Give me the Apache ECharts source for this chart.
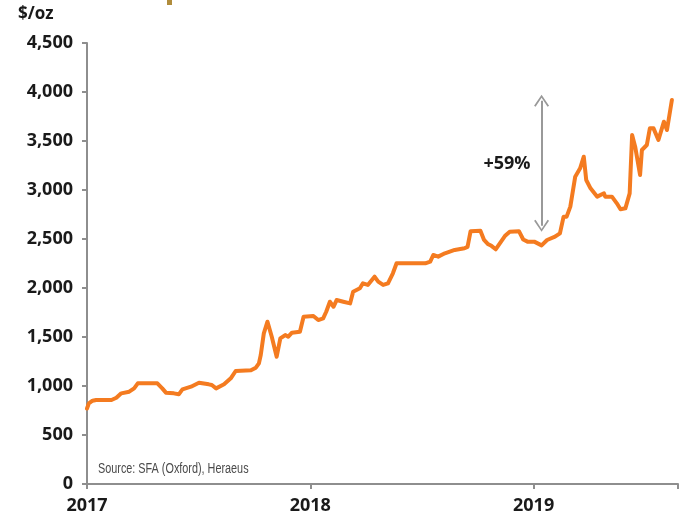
<!DOCTYPE html>
<html>
<head>
<meta charset="utf-8">
<script src="https://cdn.jsdelivr.net/npm/echarts@6/dist/echarts.min.js"></script>
<style>
html,body{margin:0;padding:0;background:#fff;}
#chart{width:681px;height:518px;}
</style>
</head>
<body>
<div id="chart"></div>
<script>
// Rhodium price, $/oz
const dates = [
 '2017-01-01','2017-01-04','2017-01-10','2017-01-16','2017-02-10','2017-02-18','2017-02-26','2017-03-11','2017-03-19','2017-03-25',
 '2017-04-26','2017-05-04','2017-05-10','2017-05-23','2017-05-31','2017-06-06','2017-06-20','2017-07-03','2017-07-19','2017-07-24',
 '2017-07-31','2017-08-13','2017-08-24','2017-09-01','2017-09-26','2017-10-04','2017-10-09','2017-10-12','2017-10-17','2017-10-23',
 '2017-10-30','2017-11-07','2017-11-13','2017-11-21','2017-11-26','2017-12-02','2017-12-15','2017-12-21','2018-01-06','2018-01-14',
 '2018-01-22','2018-01-27','2018-02-02','2018-02-08','2018-02-13','2018-02-24','2018-03-07','2018-03-12','2018-03-23','2018-03-28',
 '2018-04-05','2018-04-16','2018-04-22','2018-04-30','2018-05-08','2018-05-16','2018-05-22','2018-06-15','2018-07-08','2018-07-16',
 '2018-07-21','2018-07-29','2018-08-09','2018-08-25','2018-09-10','2018-09-15','2018-09-20','2018-10-06','2018-10-12','2018-10-18',
 '2018-10-24','2018-10-31','2018-11-03','2018-11-15','2018-11-23','2018-12-08','2018-12-15','2018-12-22','2019-01-02','2019-01-14',
 '2019-01-23','2019-02-05','2019-02-13','2019-02-19','2019-02-24','2019-03-02','2019-03-10','2019-03-18','2019-03-24','2019-03-28',
 '2019-04-04','2019-04-15','2019-04-26','2019-04-28','2019-05-09','2019-05-17','2019-05-23','2019-05-31','2019-06-07','2019-06-11',
 '2019-06-16','2019-06-24','2019-06-27','2019-07-05','2019-07-10','2019-07-16','2019-07-24','2019-08-02','2019-08-07','2019-08-11',
 '2019-08-15'
];
const prices = [
 770,823,850,857,857,880,925,942,976,1027,
 1027,976,932,925,915,966,993,1034,1017,1010,
 976,1017,1078,1153,1160,1187,1231,1316,1537,1656,
 1503,1299,1486,1520,1503,1544,1554,1707,1714,1673,
 1690,1758,1860,1809,1877,1860,1843,1962,1997,2048,
 2031,2116,2065,2031,2048,2150,2252,2252,2252,2269,
 2337,2320,2354,2388,2405,2420,2580,2585,2490,2450,
 2430,2395,2405,2530,2575,2580,2495,2473,2473,2435,
 2490,2524,2558,2728,2728,2830,3136,3221,3340,3102,
 3017,2932,2966,2932,2932,2864,2803,2813,2966,3561,
 3442,3153,3408,3459,3629,3629,3510,3697,3612,3765,
 3918
];
const yearLabels = ['2017','2018','2019'];
const arrowDate = '2019-01-14';
const arrowTop = 3910;
const arrowBottom = 2635;
const arrowLabel = '+59%';
const unitLabel = '$/oz';
const sourceLabel = 'Source: SFA (Oxford), Heraeus';
const axisEndDate = '2019-08-25';

const DAY = 86400000;
const base = Date.UTC(2017,0,1);
function dayOf(s){ const p=s.split('-').map(Number); return (Date.UTC(p[0],p[1]-1,p[2])-base)/DAY; }
const seriesData = dates.map((d,i)=>[dayOf(d), prices[i]]);
const xMax = dayOf(axisEndDate);
const ax = dayOf(arrowDate);

const chev = 'path://M0,10 L5,0 L10,10 L9,10.9 L5,2.6 L1,10.9 Z';
const font = '"Open Sans", Lato, sans-serif';

const chart = echarts.init(document.getElementById('chart'), null, {renderer:'canvas'});
chart.setOption({
  animation:false,
  backgroundColor:'#ffffff',
  grid:{left:87,right:0,top:43,bottom:34,containLabel:false},
  xAxis:{
    type:'value', min:0, max:xMax, interval:365,
    axisLine:{show:true,lineStyle:{color:'#8e8e8e',width:2}},
    axisTick:{show:true,length:5,lineStyle:{color:'#8e8e8e',width:2}},
    splitLine:{show:false},
    axisLabel:{
      margin:13, fontSize:18, fontWeight:'bold', color:'#1a1a1a', fontFamily:font,
      formatter:function(v){ const i=Math.round(v/365); return (Math.abs(v-i*365)<1 && yearLabels[i])?yearLabels[i]:''; }
    }
  },
  yAxis:{
    type:'value', min:0, max:4500, interval:500,
    axisLine:{show:true,lineStyle:{color:'#8e8e8e',width:2}},
    axisTick:{show:true,length:5,lineStyle:{color:'#8e8e8e',width:2}},
    splitLine:{show:false},
    axisLabel:{
      margin:14, fontSize:18, fontWeight:'bold', color:'#1a1a1a', fontFamily:font,
      formatter:function(v){ return v.toLocaleString('en-US'); }
    }
  },
  series:[{
    type:'line',
    data:seriesData,
    showSymbol:false,
    smooth:false,
    lineStyle:{color:'#f47b20',width:4,join:'round',cap:'round'},
    itemStyle:{color:'#f47b20'},
    markLine:{
      silent:true,
      symbol:[chev,chev],
      symbolSize:[15,12],
      label:{show:false},
      lineStyle:{color:'#999999',width:2,type:'solid'},
      data:[[{coord:[ax,arrowTop]},{coord:[ax,arrowBottom]}]]
    }
  }],
  graphic:[
    {type:'text',left:18,top:6,style:{text:unitLabel,fontSize:17,fontWeight:'bold',fill:'#1a1a1a',fontFamily:font}},
    {type:'text',x:507,y:164,style:{text:arrowLabel,fontSize:18,fontWeight:'bold',fill:'#1a1a1a',fontFamily:font,align:'center',verticalAlign:'middle'}},
    {type:'text',x:98,y:469,scaleX:0.774,style:{text:sourceLabel,fontSize:14,fill:'#4a4a4a',fontFamily:'"Liberation Sans", Arial, sans-serif',verticalAlign:'middle'}},
    {type:'rect',shape:{x:167,y:0,width:5,height:5},style:{fill:'#b08c3c'}}
  ]
});
</script>
</body>
</html>
